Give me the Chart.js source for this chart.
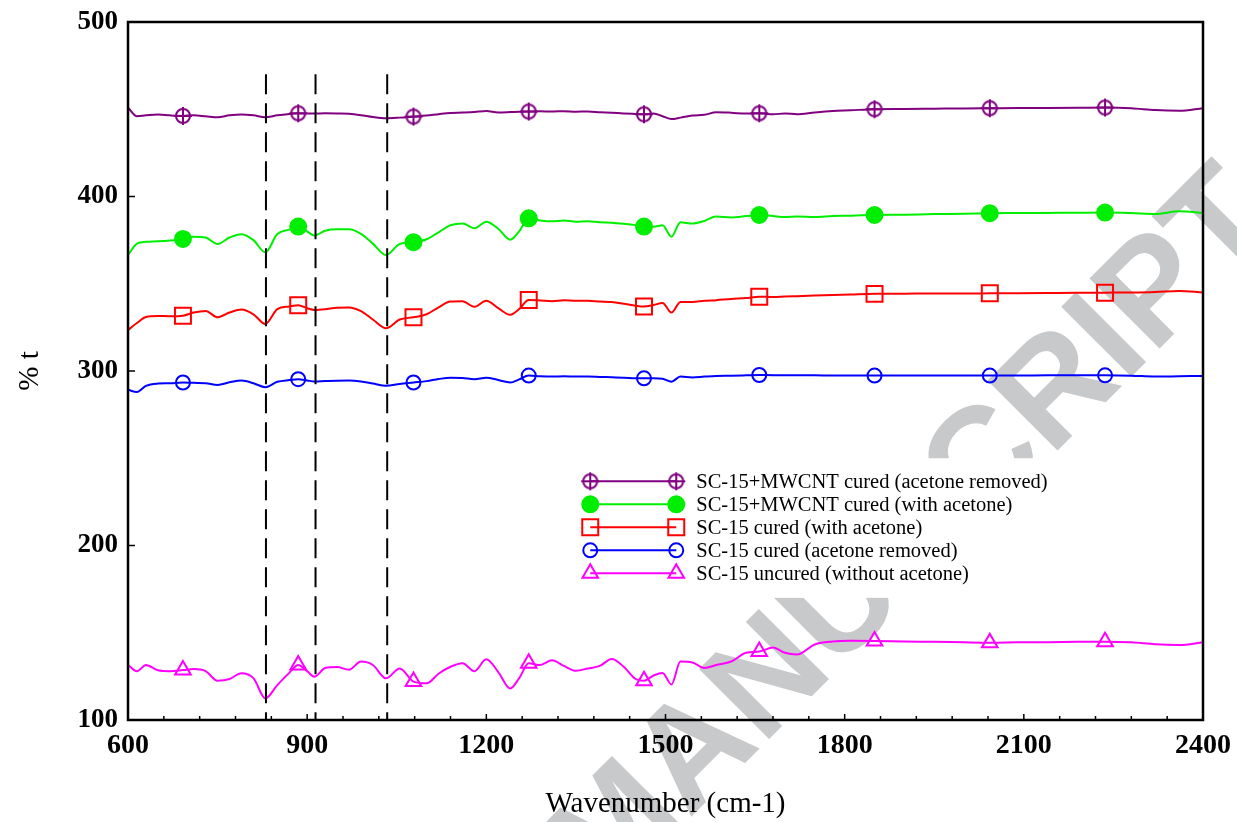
<!DOCTYPE html>
<html>
<head>
<meta charset="utf-8">
<script src="https://cdn.jsdelivr.net/npm/chart.js@4.4.0/dist/chart.umd.min.js"></script>
<style>
  html, body { margin: 0; padding: 0; background: #fff; }
</style>
</head>
<body>
<canvas id="ftir" width="1237" height="822"></canvas>
<script>
// wavenumber grid (cm-1), includes the marker positions
const wavenumber = [
  600, 615, 630, 650, 670, 692, 710, 730, 750, 770,
  790, 810, 830, 850, 870, 885, 900, 912, 930, 950,
  970, 990, 1010, 1032, 1055, 1078, 1100, 1120, 1140, 1160,
  1180, 1200, 1220, 1240, 1255, 1271, 1290, 1310, 1330, 1350,
  1370, 1390, 1410, 1430, 1450, 1464, 1480, 1495, 1510, 1525,
  1545, 1565, 1585, 1610, 1635, 1657, 1680, 1700, 1720, 1750,
  1780, 1810, 1850, 1900, 1950, 2000, 2043, 2090, 2140, 2190,
  2236, 2280, 2320, 2360, 2400
];

// % t (offset traces)
const mwcntAcetoneRemoved = [
  451, 446, 446.5, 447, 446.5, 446.2, 446.5, 446, 445.4, 446.5,
  447, 446.5, 445.4, 446.5, 447.3, 447.7, 447.5, 447.5, 447.7, 447.6,
  447.4, 446.6, 445.5, 444.8, 445.2, 445.8, 446.4, 447.2, 447.9, 448.1,
  448.4, 449, 448.2, 448.4, 448.6, 448.7, 448.8, 448.7, 448.9, 448.6,
  448.7, 448.3, 448, 447.6, 447.3, 447.1, 447.5, 446, 444.4, 445.2,
  446.4, 446.8, 448.3, 448, 447.5, 447.7, 447.1, 447.6, 447.2, 448.2,
  449, 449.4, 450, 450.1, 450.3, 450.5, 450.6, 450.7, 450.7, 450.8,
  451, 450.6, 449.5, 449.1, 450.6
];
const mwcntWithAcetone = [
  366.5, 373, 374, 374.3, 374.8, 375.7, 377, 376.5, 372.8, 376.5,
  378.4, 375, 368, 378.5, 381, 382.8, 380, 377.6, 380.4, 381.2,
  381.2, 378.6, 373, 366.5, 372.8, 373.8, 375.5, 379.5, 383.5, 384.5,
  381.8, 385.6, 381.5, 375.2, 380, 387.5, 386.3, 385.8, 386.2, 385.6,
  385.8, 385.2, 385, 384.4, 383.6, 382.8, 382.6, 383.5, 377, 385.2,
  384.5, 386, 388.5, 388, 388.8, 389.4, 388.8, 388.3, 388.5, 388.3,
  388.8, 389, 389.4, 389.6, 389.9, 390.1, 390.4, 390.5, 390.6, 390.7,
  390.8, 390.5, 390, 391.5, 390.6
];
const curedWithAcetone = [
  323.5, 327.5, 331, 331.5, 331.4, 331.7, 333.5, 334.4, 330.8, 333.5,
  335.2, 332.5, 327, 335.5, 337, 337.7, 336, 335, 335.4, 336.3,
  336.4, 334.3, 329.5, 324.5, 329.5, 330.8, 332.5, 336.5, 339.8, 340,
  336.8, 340.3, 336, 332.2, 335.5, 340.7, 340.4, 340, 340.5, 340.2,
  340.3, 339.8, 339.5, 338.5, 337.4, 336.9, 337.8, 339, 333.5, 339.5,
  339.6, 340.2, 340.6, 341.3, 341.8, 342.6, 342.4, 342.7, 342.9, 343.2,
  343.5, 343.8, 344.2, 344.3, 344.4, 344.4, 344.5, 344.6, 344.7, 344.8,
  344.9, 345, 345.3, 345.9, 345
];
const curedAcetoneRemoved = [
  289.2, 288, 291.5, 292.8, 293, 293.4, 293.2, 293, 292, 293.5,
  294.5, 293, 290.7, 293.8, 294.8, 295.3, 294.6, 294, 294.2, 294.4,
  294.5, 294, 292.8, 291.5, 292.6, 293.4, 294.2, 295.4, 296.2, 296,
  295.3, 296.2, 294.8, 293.4, 295.2, 297.4, 297, 296.8, 297, 296.8,
  296.8, 296.6, 296.4, 296.2, 295.9, 295.8, 295.8, 295.5, 293.9, 296.8,
  296.3, 296.8, 297.2, 297.3, 297.5, 297.7, 297.6, 297.6, 297.5, 297.5,
  297.4, 297.4, 297.4, 297.4, 297.4, 297.4, 297.4, 297.4, 297.5, 297.5,
  297.5, 297.3, 296.8, 297, 297.2
];
const uncured = [
  131.5, 128, 131.5, 128.5, 128, 128.6, 129.2, 128, 122.5, 123.5,
  126.8, 124, 112.4, 120, 127, 131.5, 128, 124.8, 129.8, 130.4,
  128.8, 133.5, 131.5, 123.9, 129.5, 122, 121, 126.5, 130.5, 132.5,
  128, 134.8, 127.5, 118.1, 124, 132.5, 131.5, 134.2, 131, 128.2,
  129.5, 131, 135, 130.5, 123.5, 122.5, 125.5, 127, 120.4, 133.5,
  133, 129.8, 131.5, 133.5, 138.5, 139.2, 141.5, 138.5, 137.5, 143.3,
  145, 145.4, 145.3, 145, 144.8, 144.5, 144.3, 144.5, 144.6, 144.8,
  144.9, 144.5, 143.4, 143, 144.5
];

const markerX = [692, 885, 1078, 1271, 1464, 1657, 1850, 2043, 2236];
const dashedX = [831, 914, 1034];
const dashTop = 470;

const seriesNames = [
  'SC-15+MWCNT cured (acetone removed)',
  'SC-15+MWCNT cured (with acetone)',
  'SC-15 cured (with acetone)',
  'SC-15 cured (acetone removed)',
  'SC-15 uncured (without acetone)'
];
const seriesColors = ['#800080', '#00ee00', '#ff0000', '#0000ff', '#ff00ff'];

const serif = "'Liberation Serif', 'Times New Roman', serif";

// circle with a cross (not a built-in point style)
function circlePlus(color) {
  const c = document.createElement('canvas');
  c.width = 20; c.height = 20;
  const g = c.getContext('2d');
  g.strokeStyle = color;
  g.lineWidth = 2;
  g.beginPath(); g.arc(10, 10, 7, 0, Math.PI * 2); g.stroke();
  g.beginPath();
  g.moveTo(10, 1); g.lineTo(10, 19);
  g.moveTo(1, 10); g.lineTo(19, 10);
  g.stroke();
  return c;
}

const pointStyles = [circlePlus(seriesColors[0]), 'circle', 'rect', 'circle', 'triangle'];
const pointSizes = [7, 8, 11.3, 7, 9];
const pointFilled = [false, true, false, false, false];

function toPoints(vals) {
  return wavenumber.map((x, i) => ({ x: x, y: vals[i] }));
}

const allSeries = [mwcntAcetoneRemoved, mwcntWithAcetone, curedWithAcetone, curedAcetoneRemoved, uncured];

const datasets = allSeries.map((vals, k) => ({
  label: seriesNames[k],
  data: toPoints(vals),
  borderColor: seriesColors[k],
  backgroundColor: pointFilled[k] ? seriesColors[k] : 'rgba(0,0,0,0)',
  borderWidth: 2,
  cubicInterpolationMode: 'monotone',
  pointStyle: pointStyles[k],
  pointBorderWidth: 2,
  pointRadius: ctx => markerX.includes(wavenumber[ctx.dataIndex]) ? pointSizes[k] : 0,
  pointHoverRadius: 0
}));

const decorations = {
  id: 'decorations',
  beforeDraw(chart) {
    // watermark of the source page, sits behind everything
    const ctx = chart.ctx;
    ctx.save();
    ctx.fillStyle = '#c8c9cb';
    ctx.font = "bold 144px 'Liberation Sans', Arial, sans-serif";
    ctx.translate(604, 904);
    ctx.rotate(-Math.PI / 4);
    ctx.textAlign = 'right';
    ctx.fillText('ACCEPTED ', 0, 0);
    ctx.textAlign = 'left';
    ctx.fillText('MANUSCRIPT', 0, 0);
    ctx.restore();
  },
  beforeDatasetsDraw(chart) {
    // white box under the legend
    const { ctx, chartArea: a } = chart;
    const lx = a.left + 0.415 * a.width;
    const ly = a.top + 0.625 * a.height;
    ctx.save();
    ctx.fillStyle = '#fff';
    ctx.fillRect(lx, ly, 0.455 * a.width, 0.2 * a.height);
    ctx.restore();
  },
  afterDatasetsDraw(chart) {
    const { ctx, chartArea: a, scales: { x, y } } = chart;
    ctx.save();
    ctx.strokeStyle = '#000';
    ctx.lineWidth = 2;
    ctx.setLineDash([20, 9]);
    dashedX.forEach(v => {
      const px = x.getPixelForValue(v);
      ctx.beginPath();
      ctx.moveTo(px, y.getPixelForValue(dashTop));
      ctx.lineTo(px, y.getPixelForValue(100));
      ctx.stroke();
    });
    ctx.setLineDash([]);

    // legend: line with a marker at each end
    const x1 = a.left + 0.43 * a.width;
    const x2 = x1 + 86;
    const y0 = a.top + 0.658 * a.height;
    const gap = 23;
    ctx.font = '20.5px ' + serif;
    ctx.textBaseline = 'middle';
    chart.data.datasets.forEach((ds, k) => {
      const yy = y0 + k * gap;
      ctx.strokeStyle = seriesColors[k];
      ctx.fillStyle = pointFilled[k] ? seriesColors[k] : 'rgba(0,0,0,0)';
      ctx.lineWidth = 2;
      ctx.beginPath(); ctx.moveTo(x1, yy); ctx.lineTo(x2, yy); ctx.stroke();
      [x1, x2].forEach(px => {
        Chart.helpers.drawPoint(ctx, { pointStyle: pointStyles[k], radius: pointSizes[k], borderWidth: 2, rotation: 0 }, px, yy);
      });
      ctx.fillStyle = '#000';
      ctx.fillText(seriesNames[k], x2 + 20, yy + 1);
    });
    ctx.restore();
  },
  afterDraw(chart) {
    const { ctx, chartArea: a, scales: { x, y } } = chart;
    ctx.save();
    ctx.strokeStyle = '#000';
    ctx.lineWidth = 1.5;
    for (let v = x.min; v <= x.max; v += 60) {
      const px = x.getPixelForValue(v);
      const len = v % 300 === 0 ? 6 : 4;
      ctx.beginPath(); ctx.moveTo(px, a.bottom); ctx.lineTo(px, a.bottom - len); ctx.stroke();
    }
    y.ticks.forEach(t => {
      const py = y.getPixelForValue(t.value);
      ctx.beginPath(); ctx.moveTo(a.left, py); ctx.lineTo(a.left + 7, py); ctx.stroke();
    });
    ctx.lineWidth = 2.5;
    ctx.strokeRect(a.left, a.top, a.right - a.left, a.bottom - a.top);
    ctx.restore();
  }
};

new Chart(document.getElementById('ftir').getContext('2d'), {
  type: 'line',
  data: { datasets: datasets },
  options: {
    responsive: false,
    animation: false,
    layout: { padding: { top: 22, right: 34, left: 0, bottom: 0 } },
    plugins: {
      legend: { display: false },
      tooltip: { enabled: false }
    },
    scales: {
      x: {
        type: 'linear',
        min: 600,
        max: 2400,
        afterFit: s => { s.height = 102; s.paddingLeft = 0; s.paddingRight = 0; },
        grid: { display: false, drawTicks: false },
        border: { display: false },
        ticks: {
          stepSize: 300,
          padding: 9,
          color: '#000',
          callback: v => String(v),
          font: { family: serif, size: 28, weight: 'bold' }
        },
        title: {
          display: true,
          text: 'Wavenumber (cm-1)',
          color: '#000',
          padding: { top: 0, bottom: 0 },
          font: { family: serif, size: 29 }
        }
      },
      y: {
        min: 100,
        max: 500,
        afterFit: s => { s.width = 128; s.paddingTop = 0; s.paddingBottom = 0; },
        grid: { display: false, drawTicks: false },
        border: { display: false },
        ticks: {
          stepSize: 100,
          padding: 10,
          color: '#000',
          callback: v => String(v),
          font: { family: serif, size: 27, weight: 'bold' }
        },
        title: {
          display: true,
          text: '% t',
          color: '#000',
          padding: { top: 13, bottom: 0 },
          font: { family: serif, size: 29 }
        }
      }
    }
  },
  plugins: [decorations]
});
</script>
</body>
</html>
